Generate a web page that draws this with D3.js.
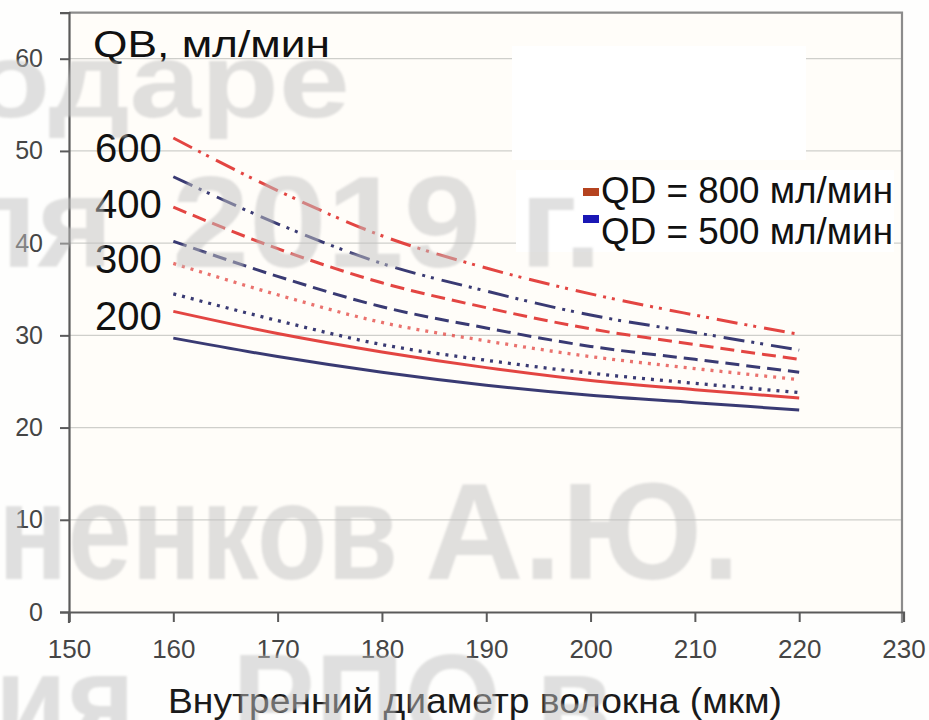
<!DOCTYPE html>
<html lang="ru">
<head>
<meta charset="utf-8">
<script src="https://cdn.jsdelivr.net/npm/d3@7"></script>
<style>
  html, body { margin: 0; padding: 0; background: #fefefd; }
  svg { display: block; }
  text { font-family: "Liberation Sans", Arial, sans-serif; }
</style>
</head>
<body>
<svg id="chart" width="929" height="720"></svg>
<script>
// Inner fibre diameter, µm
const diameters = [160, 170, 180, 190, 200, 210, 220];

// Clearance values per blood flow (QB) and dialysate flow (QD)
const qd800qb600 = [51.4, 45.7, 40.8, 37.3, 34.5, 32.2, 30.1];
const qd500qb600 = [47.2, 42.1, 37.8, 34.8, 32.2, 30.3, 28.4];
const qd800qb400 = [43.9, 39.4, 35.7, 33.0, 30.7, 29.0, 27.4];
const qd500qb400 = [40.2, 36.4, 33.1, 30.8, 28.8, 27.4, 26.0];
const qd800qb300 = [37.8, 34.4, 31.4, 29.4, 27.7, 26.4, 25.2];
const qd500qb300 = [34.5, 31.6, 29.0, 27.3, 25.9, 24.8, 23.8];
const qd800qb200 = [32.6, 30.2, 28.2, 26.5, 25.1, 24.1, 23.2];
const qd500qb200 = [29.7, 27.7, 26.0, 24.6, 23.5, 22.7, 21.9];

// Axis ticks and labels
const xTicks = [150, 160, 170, 180, 190, 200, 210, 220, 230];
const yTicks = [0, 10, 20, 30, 40, 50, 60];
const qbLabels = ["600", "400", "300", "200"];
const legendLabels = ["QD = 800 мл/мин", "QD = 500 мл/мин"];
const axisTitle = "Внутренний диаметр волокна (мкм)";
const blockTitle = "QB, мл/мин";

// Series list: values, QD group, QB line style
const series = [
  { values: qd800qb600, qd: 800, qb: 600 },
  { values: qd500qb600, qd: 500, qb: 600 },
  { values: qd800qb400, qd: 800, qb: 400 },
  { values: qd500qb400, qd: 500, qb: 400 },
  { values: qd800qb300, qd: 800, qb: 300 },
  { values: qd500qb300, qd: 500, qb: 300 },
  { values: qd800qb200, qd: 800, qb: 200 },
  { values: qd500qb200, qd: 500, qb: 200 }
];

const lineColor = { 800: "#e23b38", 500: "#2e2f6c" };
const swatchColor = { 800: "#b5431f", 500: "#1a17b5" };
const dashFor = {
  600: "21,7,3,6,3,8",
  400: "14,7",
  300: "3,6",
  200: null
};

const svg = d3.select("#chart");
const plotLeft = 69, plotRight = 903.5, plotTop = 12.6, plotBottom = 612;

const x = d3.scaleLinear().domain([150, 230]).range([plotLeft, plotRight]);
const y = d3.scaleLinear().domain([0, 65]).range([plotBottom, plotTop]);

// Plot background
svg.append("rect")
  .attr("x", plotLeft).attr("y", plotTop)
  .attr("width", plotRight - plotLeft).attr("height", plotBottom - plotTop)
  .attr("fill", "#fffdf9");

// Horizontal gridlines
svg.append("g")
  .selectAll("line")
  .data(yTicks.filter(d => d > 0))
  .join("line")
  .attr("x1", plotLeft).attr("x2", plotRight - 2)
  .attr("y1", d => y(d)).attr("y2", d => y(d))
  .attr("stroke", "#cfcfcb").attr("stroke-width", 1.3);

// Blank text-box areas over the grid
svg.append("rect")
  .attr("x", 512).attr("y", 46).attr("width", 294).attr("height", 114)
  .attr("fill", "#ffffff");
svg.append("rect")
  .attr("x", 516).attr("y", 170).attr("width", 378).attr("height", 82)
  .attr("fill", "#ffffff");

// Frame: top and right borders
svg.append("path")
  .attr("d", `M${plotLeft},${plotTop}H${x(230) - 1.5}V${plotBottom + 11}`)
  .attr("fill", "none").attr("stroke", "#8c8c8c").attr("stroke-width", 2.2);

// Data lines
const line = d3.line()
  .x((d, i) => x(diameters[i]))
  .y(d => y(d))
  .curve(d3.curveMonotoneX);

svg.append("g")
  .selectAll("path")
  .data(series)
  .join("path")
  .attr("d", d => line(d.values))
  .attr("fill", "none")
  .attr("stroke", d => lineColor[d.qd])
  .attr("stroke-opacity", d => d.qb === 300 && d.qd === 800 ? 0.72 : 0.95)
  .attr("stroke-width", d => d.qb === 300 ? 3.3 : 3)
  .attr("stroke-dasharray", d => dashFor[d.qb]);

// Axes
const yAxis = d3.axisLeft(y).tickValues(yTicks).tickSize(9).tickPadding(17);
const xAxis = d3.axisBottom(x).tickValues(xTicks).tickSize(10).tickPadding(18);

const gy = svg.append("g").attr("transform", `translate(${plotLeft},0)`).call(yAxis);
const gx = svg.append("g").attr("transform", `translate(0,${plotBottom})`).call(xAxis);

[gx, gy].forEach(g => {
  g.select(".domain").attr("stroke", "#5a5a5a").attr("stroke-width", 2.2);
  g.selectAll(".tick line").attr("stroke", "#5a5a5a").attr("stroke-width", 2);
  g.selectAll(".tick text")
    .attr("fill", "#454545")
    .attr("font-size", 25)
    .attr("font-family", "Liberation Sans, Arial, sans-serif");
});
gx.selectAll(".tick text").attr("font-size", 26);
// extend y axis below the x axis
svg.append("line")
  .attr("x1", plotLeft).attr("x2", plotLeft)
  .attr("y1", plotBottom).attr("y2", plotBottom + 11)
  .attr("stroke", "#5a5a5a").attr("stroke-width", 2.2);

// Block title and QB labels
svg.append("text")
  .attr("x", 93).attr("y", 57)
  .attr("font-size", 37)
  .attr("textLength", 237).attr("lengthAdjust", "spacingAndGlyphs")
  .attr("fill", "#111")
  .text(blockTitle);

const qbBaselines = [162, 218, 273, 330];
svg.append("g")
  .selectAll("text")
  .data(qbLabels)
  .join("text")
  .attr("x", 95)
  .attr("y", (d, i) => qbBaselines[i])
  .attr("font-size", 40)
  .attr("fill", "#111")
  .text(d => d);

// Legend
const legend = svg.append("g");
[800, 500].forEach((qd, i) => {
  legend.append("rect")
    .attr("x", 583).attr("y", 188 + i * 27)
    .attr("width", 16).attr("height", 8)
    .attr("fill", swatchColor[qd]);
  legend.append("text")
    .attr("x", 601).attr("y", 203 + i * 41)
    .attr("font-size", 36)
    .attr("textLength", 292).attr("lengthAdjust", "spacingAndGlyphs")
    .attr("fill", "#111")
    .text(legendLabels[i]);
});

// X axis title
svg.append("text")
  .attr("x", 168).attr("y", 713)
  .attr("font-size", 35)
  .attr("textLength", 614).attr("lengthAdjust", "spacingAndGlyphs")
  .attr("fill", "#1a1a1a")
  .text(axisTitle);

// Watermark
const defs = svg.append("defs");
defs.append("filter").attr("id", "soft")
  .append("feGaussianBlur").attr("stdDeviation", 1.2);

const wm = svg.append("g")
  .attr("fill", "#c2c2c2")
  .attr("fill-opacity", 0.5)
  .attr("font-weight", "bold")
  .attr("filter", "url(#soft)");

wm.append("text").attr("x", -28).attr("y", 117).attr("font-size", 105)
  .attr("textLength", 378).attr("lengthAdjust", "spacingAndGlyphs").text("одаре");
wm.append("text").attr("x", 113).attr("y", 267).attr("font-size", 130)
  .attr("text-anchor", "end").text("ля");
wm.append("text").attr("x", 172).attr("y", 267).attr("font-size", 130)
  .attr("textLength", 430).attr("lengthAdjust", "spacingAndGlyphs").text("2019 г.");
wm.append("text").attr("x", -2).attr("y", 579).attr("font-size", 138)
  .attr("textLength", 400).attr("lengthAdjust", "spacingAndGlyphs").text("ненков");
wm.append("text").attr("x", 425).attr("y", 579).attr("font-size", 138)
  .attr("textLength", 315).attr("lengthAdjust", "spacingAndGlyphs").text("А.Ю.");
wm.append("text").attr("x", -5).attr("y", 745).attr("font-size", 130)
  .attr("textLength", 140).attr("lengthAdjust", "spacingAndGlyphs").text("ия");
wm.append("text").attr("x", 232).attr("y", 745).attr("font-size", 130)
  .attr("textLength", 380).attr("lengthAdjust", "spacingAndGlyphs").text("РПО в");
</script>
</body>
</html>
